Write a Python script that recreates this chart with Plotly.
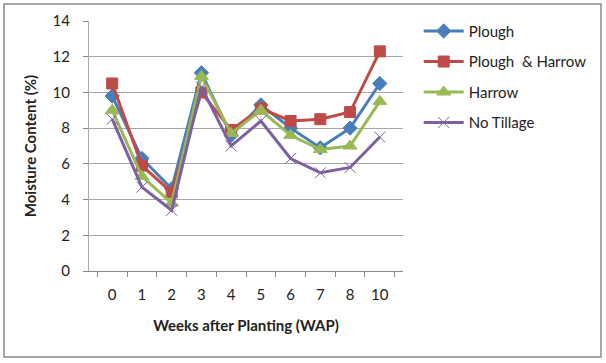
import plotly.graph_objects as go

weeks = ["0", "1", "2", "3", "4", "5", "6", "7", "8", "10"]
plough = [9.8, 6.3, 4.6, 11.1, 7.6, 9.3, 8.0, 6.9, 8.0, 10.5]
plough_harrow = [10.5, 5.9, 4.4, 10.0, 7.9, 9.1, 8.4, 8.5, 8.9, 12.3]
harrow = [9.0, 5.3, 3.8, 10.9, 7.7, 9.0, 7.6, 6.8, 7.0, 9.5]
no_tillage = [8.5, 4.7, 3.4, 10.3, 7.0, 8.4, 6.3, 5.5, 5.8, 7.5]

series = [
    ("Plough", plough, "#4A7EBB", "diamond", 11),
    ("Plough  & Harrow", plough_harrow, "#BE4B48", "square", 11),
    ("Harrow", harrow, "#98B954", "triangle-up", 12),
    ("No Tillage", no_tillage, "#7D60A0", "x-thin-open", 11),
]

fig = go.Figure()
for i, (name, vals, color, sym, size) in enumerate(series):
    fig.add_trace(go.Scatter(
        x=weeks, y=vals, name=name, mode="lines+markers",
        line=dict(color=color, width=3),
        marker=dict(symbol=sym, size=size, color=color,
                    line=dict(color=color, width=1)),
        legendgroup=f"g{i}",
    ))

font_family = "Lato, 'Open Sans', Arial, sans-serif"
fig.update_layout(
    width=606, height=363,
    margin=dict(l=89, r=203, t=21, b=92),
    paper_bgcolor="white", plot_bgcolor="white",
    font=dict(family=font_family, size=15, color="#222"),
    showlegend=True,
    legend=dict(x=1.05, y=1.025, xanchor="left", yanchor="top",
                font=dict(size=15, color="#222"), tracegroupgap=8,
                itemwidth=40, bgcolor="rgba(0,0,0,0)"),
    xaxis=dict(type="category", tickson="boundaries", ticks="outside",
               ticklen=5, tickcolor="#888", showline=True, linecolor="#888",
               showgrid=False, tickfont=dict(size=15), ticklabelstandoff=10,
               title=dict(text="<b>Weeks after Planting (WAP)</b>",
                          font=dict(size=15), standoff=18)),
    yaxis=dict(range=[0, 14], dtick=2, ticks="outside", ticklen=5,
               tickcolor="#888", showline=True, linecolor="#aaa",
               showgrid=True, gridcolor="#a6a6a6", gridwidth=1,
               zeroline=False, tickfont=dict(size=15), ticklabelstandoff=10,
               title=dict(text="<b>Moisture Content (%)</b>",
                          font=dict(size=15), standoff=12)),
    shapes=[dict(type="rect", xref="paper", yref="paper",
                 x0=(4 - 89) / 314, x1=(601 - 89) / 314,
                 y0=(271 - 357) / 250, y1=(271 - 4) / 250,
                 line=dict(color="#8a8a8a", width=1.5), layer="below")],
)

fig.write_html("out.html", config={"displayModeBar": False},
               post_script="document.body.style.margin='0';")
